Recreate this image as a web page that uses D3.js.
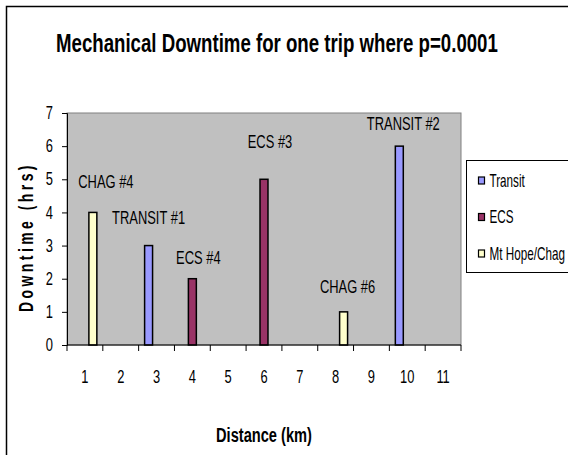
<!DOCTYPE html>
<html>
<head>
<meta charset="utf-8">
<script src="https://cdn.jsdelivr.net/npm/d3@7"></script>
<style>
  body { margin: 0; background: #fff; }
  text { font-family: "Liberation Sans", Arial, sans-serif; }
</style>
</head>
<body>
<div id="vis"></div>
<script>
// data
var categories = [1, 2, 3, 4, 5, 6, 7, 8, 9, 10, 11];
var seriesNames = ['Transit', 'ECS', 'Mt Hope/Chag'];
var transit = [null, null, 3, null, null, null, null, null, null, 6, null];
var ecs = [null, null, null, 2, null, 5, null, null, null, null, null];
var chag = [4, null, null, null, null, null, null, 1, null, null, null];
var yTicks = [0, 1, 2, 3, 4, 5, 6, 7];

// point labels (series index, category, text)
var pointLabels = [
    [2, 1, 'CHAG #4'],
    [0, 3, 'TRANSIT #1'],
    [1, 4, 'ECS #4'],
    [1, 6, 'ECS #3'],
    [2, 8, 'CHAG #6'],
    [0, 10, 'TRANSIT #2']
];
// hand placed label nudges (dx, dy from bar top), like the original
var labelNudge = [[13, -31], [0, -28], [6, -21], [6, -38], [4, -26], [4, -23]];

var colors = ['#9999FF', '#993366', '#FFFFCC'];

var width = 568, height = 455;
var margin = { top: 113, left: 67 },
    drawWidth = 461 - 67,
    drawHeight = 345 - 113;

// the original text is tall and narrow: squeeze each text sideways.
// f < 1 is a factor, f > 1 is a target width in px
var narrow = function(sel, f, rot) {
    sel.each(function() {
        var t = d3.select(this);
        var k = f > 1 ? f / this.getComputedTextLength() : f;
        var x = +t.attr('x') || 0, y = +t.attr('y') || 0;
        t.attr('x', 0).attr('y', 0)
            .attr('transform', 'translate(' + x + ',' + y + ')' + (rot ? ' rotate(' + rot + ')' : '') + ' scale(' + k + ',1)');
    });
};

var svg = d3.select('#vis').append('svg')
    .attr('width', width)
    .attr('height', height);

// chart area frame (runs off the right and bottom)
svg.append('rect')
    .attr('x', 6.5).attr('y', 6.5)
    .attr('width', 700).attr('height', 700)
    .attr('fill', 'white')
    .attr('stroke', 'black')
    .attr('stroke-width', 1.5);

svg.append('text')
    .attr('x', 56).attr('y', 52)
    .attr('font-size', 25)
    .attr('font-weight', 'bold')
    .text('Mechanical Downtime for one trip where p=0.0001')
    .call(narrow, 442);

var g = svg.append('g')
    .attr('transform', 'translate(' + margin.left + ',' + margin.top + ')');

var xScale = d3.scaleBand()
    .domain(categories)
    .range([0, drawWidth]);

var yScale = d3.scaleLinear()
    .domain([0, 7])
    .range([drawHeight, 0]);

// plot area
g.append('rect')
    .attr('width', drawWidth)
    .attr('height', drawHeight)
    .attr('fill', '#C0C0C0')
    .attr('stroke', '#808080')
    .attr('stroke-width', 1);

// excel style clustered bars: gap width 150%
var barW = xScale.bandwidth() / 4.5;
var allSeries = [transit, ecs, chag];

var barData = [];
allSeries.forEach(function(vals, s) {
    vals.forEach(function(v, i) {
        if (v != null) barData.push({ s: s, cat: categories[i], v: v });
    });
});

var barX = function(s, cat) {
    return xScale(cat) + barW * 0.75 + s * barW;
};

g.selectAll('rect.bar')
    .data(barData)
    .enter().append('rect')
    .attr('class', 'bar')
    .attr('x', function(d) { return barX(d.s, d.cat); })
    .attr('y', function(d) { return yScale(d.v); })
    .attr('width', barW)
    .attr('height', function(d) { return drawHeight - yScale(d.v); })
    .attr('fill', function(d) { return colors[d.s]; })
    .attr('stroke', 'black')
    .attr('stroke-width', 1.5);

// axes
var yAxis = d3.axisLeft(yScale)
    .tickValues(yTicks)
    .tickFormat(d3.format('d'))
    .tickSize(5)
    .tickPadding(9);
var yG = g.append('g').call(yAxis);
yG.select('.domain').attr('stroke', 'black');
yG.selectAll('text')
    .attr('font-size', 19)
    .attr('font-family', null)
    .attr('dy', '0.3em')
    .call(narrow, 0.68);

var xAxis = d3.axisBottom(xScale).tickSize(0).tickPadding(24);
var xG = g.append('g')
    .attr('transform', 'translate(0,' + drawHeight + ')')
    .call(xAxis);
xG.select('.domain').remove();
xG.selectAll('text')
    .attr('font-size', 19)
    .attr('font-family', null)
    .call(narrow, 0.68);

// x tick marks sit on category boundaries
var bounds = categories.map(function(c) { return xScale(c); }).concat([drawWidth]);
xG.selectAll('line.bound')
    .data(bounds)
    .enter().append('line')
    .attr('class', 'bound')
    .attr('x1', function(d) { return d; })
    .attr('x2', function(d) { return d; })
    .attr('y1', 0).attr('y2', 6)
    .attr('stroke', 'black');
xG.append('line')
    .attr('x1', 0).attr('x2', drawWidth)
    .attr('stroke', 'black');

// point labels
g.selectAll('text.plabel')
    .data(pointLabels)
    .enter().append('text')
    .attr('class', 'plabel')
    .attr('x', function(d, i) { return barX(d[0], d[1]) + barW / 2 + labelNudge[i][0]; })
    .attr('y', function(d, i) { return yScale(allSeries[d[0]][d[1] - 1]) + labelNudge[i][1]; })
    .attr('dy', '0.35em')
    .attr('text-anchor', 'middle')
    .attr('font-size', 19)
    .text(function(d) { return d[2]; })
    .call(narrow, 0.68);

// axis titles
svg.append('text')
    .attr('x', 33).attr('y', 237)
    .attr('text-anchor', 'middle')
    .attr('font-size', 20)
    .attr('font-weight', 'bold')
    .attr('letter-spacing', 5)
    .text('Downtime (hrs)')
    .call(narrow, 150, -90);

svg.append('text')
    .attr('x', margin.left + drawWidth / 2)
    .attr('y', 442)
    .attr('text-anchor', 'middle')
    .attr('font-size', 20)
    .attr('font-weight', 'bold')
    .text('Distance (km)')
    .call(narrow, 96);

// legend
var legend = svg.append('g').attr('transform', 'translate(466.5,160.5)');
legend.append('rect')
    .attr('width', 150).attr('height', 112)
    .attr('fill', 'white')
    .attr('stroke', 'black');

var items = legend.selectAll('g.item')
    .data(seriesNames)
    .enter().append('g')
    .attr('class', 'item')
    .attr('transform', function(d, i) { return 'translate(12,' + (20 + i * 36.5) + ')'; });
items.append('rect')
    .attr('x', 0).attr('y', -3.5)
    .attr('width', 6).attr('height', 7)
    .attr('fill', function(d, i) { return colors[i]; })
    .attr('stroke', 'black')
    .attr('stroke-width', 1.2);
items.append('text')
    .attr('x', 11)
    .attr('dy', '0.35em')
    .attr('font-size', 18)
    .text(function(d) { return d; })
    .call(narrow, 0.65);
</script>
</body>
</html>
